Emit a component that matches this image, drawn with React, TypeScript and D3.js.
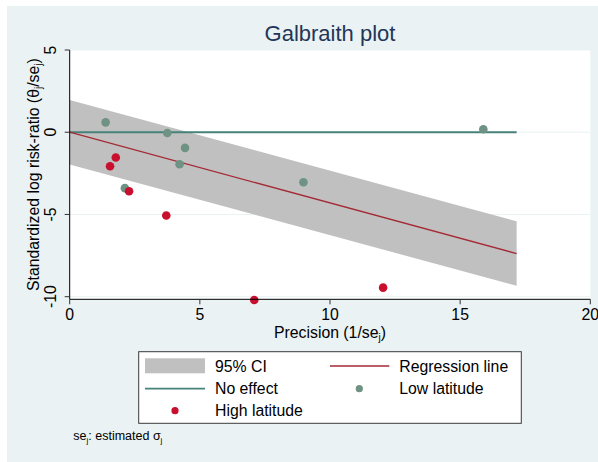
import React from "react";
import * as d3 from "d3";

// Low latitude studies: precision (1/se) and standardized log RR
const lowPrecision = [1.38, 3.75, 4.43, 4.22, 2.12, 8.98, 15.89];
const lowStdLogRR = [0.6, -0.05, -0.95, -1.95, -3.4, -3.04, 0.18];
// High latitude studies
const highPrecision = [1.77, 1.55, 2.28, 3.71, 12.04, 7.09];
const highStdLogRR = [-1.54, -2.07, -3.59, -5.06, -9.45, -10.2];

const xTicks = [0, 5, 10, 15, 20];
const yTicks = [5, 0, -5, -10];
const lineXMax = 17.17;
const ciHalfWidth = 1.96;

const W = 598;
const H = 462;
const FONT = "'Liberation Sans', Arial, Helvetica, sans-serif";
const FS = 15.8;

export default function App() {
  const x = d3.scaleLinear().domain([0, 20]).range([69.7, 590.3]);
  const y = d3.scaleLinear().domain([-10, 5]).range([296.7, 50]);
  const plotTop = 50;
  const plotBottom = 299.3;
  const plotLeft = x(0);
  const plotRight = x(20);

  const allX = [...lowPrecision, ...highPrecision];
  const allY = [...lowStdLogRR, ...highStdLogRR];
  const sxy = d3.sum(allX.map((v, i) => v * allY[i]));
  const sxx = d3.sum(allX.map((v) => v * v));
  const slope = sxy / sxx;

  const bandData = [0, lineXMax];
  const area = d3
    .area<number>()
    .x((d) => x(d))
    .y0((d) => y(slope * d - ciHalfWidth))
    .y1((d) => y(slope * d + ciHalfWidth));
  const line = d3
    .line<number>()
    .x((d) => x(d))
    .y((d) => y(slope * d));

  const teal = "#47827A";
  const lowCol = "#6E9283";
  const highCol = "#C8102E";
  const regCol = "#A52A35";

  return (
    <svg width={W} height={H} style={{ position: "absolute", left: 0, top: 0 }} fontFamily={FONT}>
      <rect x={7} y={6} width={W - 7} height={H - 6} fill="#EAF2F3" />
      <rect x={plotLeft} y={plotTop} width={plotRight - plotLeft} height={plotBottom - plotTop} fill="#ffffff" />
      {yTicks.map((t) => (
        <line key={"g" + t} x1={plotLeft} x2={plotRight} y1={y(t)} y2={y(t)} stroke="#EAF2F3" strokeWidth={1} />
      ))}
      <path d={area(bandData) || ""} fill="#C0C0C0" />
      <line x1={x(0)} x2={x(lineXMax)} y1={y(0)} y2={y(0)} stroke={teal} strokeWidth={1.8} />
      <path d={line(bandData) || ""} fill="none" stroke={regCol} strokeWidth={1.3} />
      {lowPrecision.map((p, i) => (
        <circle key={"l" + i} cx={x(p)} cy={y(lowStdLogRR[i])} r={4.3} fill={lowCol} />
      ))}
      {highPrecision.map((p, i) => (
        <circle key={"h" + i} cx={x(p)} cy={y(highStdLogRR[i])} r={4.3} fill={highCol} />
      ))}

      {/* axes */}
      <line x1={plotLeft} x2={plotLeft} y1={plotTop} y2={plotBottom} stroke="#000" strokeWidth={1} />
      <line x1={plotLeft} x2={plotRight} y1={plotBottom} y2={plotBottom} stroke="#000" strokeWidth={1} />
      {yTicks.map((t) => (
        <g key={"yt" + t}>
          <line x1={plotLeft - 5} x2={plotLeft} y1={y(t)} y2={y(t)} stroke="#333" strokeWidth={1} />
          <text transform={`translate(55.5,${y(t)}) rotate(-90)`} textAnchor="middle" fontSize={FS} fill="#000">
            {t}
          </text>
        </g>
      ))}
      {xTicks.map((t) => (
        <g key={"xt" + t}>
          <line x1={x(t)} x2={x(t)} y1={plotBottom} y2={plotBottom + 5} stroke="#333" strokeWidth={1} />
          <text x={x(t)} y={319.5} textAnchor="middle" fontSize={FS} fill="#000">
            {t}
          </text>
        </g>
      ))}

      {/* title */}
      <text x={(plotLeft + plotRight) / 2} y={41} textAnchor="middle" fontSize={22} fill="#233658">
        Galbraith plot
      </text>

      {/* axis titles */}
      <text x={(plotLeft + plotRight) / 2} y={337.7} textAnchor="middle" fontSize={FS} fill="#000">
        Precision (1/se<tspan fontSize={10} dy={3}>j</tspan><tspan dy={-3}>)</tspan>
      </text>
      <text transform={`translate(38.5,${(plotTop + plotBottom) / 2}) rotate(-90)`} textAnchor="middle" fontSize={FS} fill="#000">
        Standardized log risk-ratio (θ<tspan fontSize={10} dy={3}>j</tspan><tspan dy={-3}>/se</tspan>
        <tspan fontSize={10} dy={3}>j</tspan><tspan dy={-3}>)</tspan>
      </text>

      {/* legend */}
      <rect x={138.7} y={351.7} width={521.3 - 138.7} height={423.3 - 351.7} fill="#ffffff" stroke="#3a3a3a" strokeWidth={1} />
      <rect x={145} y={358.3} width={60} height={15} fill="#C0C0C0" />
      <text x={215} y={371.5} fontSize={FS}>95% CI</text>
      <line x1={330} x2={389.3} y1={366} y2={366} stroke={regCol} strokeWidth={1.3} />
      <text x={399.3} y={371.5} fontSize={FS}>Regression line</text>
      <line x1={145} x2={205} y1={388.7} y2={388.7} stroke={teal} strokeWidth={1.8} />
      <text x={215} y={394} fontSize={FS}>No effect</text>
      <circle cx={359.3} cy={388.7} r={3.6} fill={lowCol} />
      <text x={399.3} y={394} fontSize={FS}>Low latitude</text>
      <circle cx={175} cy={410.7} r={3.6} fill={highCol} />
      <text x={215} y={416} fontSize={FS}>High latitude</text>

      {/* note */}
      <text x={73.3} y={440} fontSize={12.5} fill="#000">
        se<tspan fontSize={8} dy={2.5}>j</tspan><tspan dy={-2.5}>: estimated σ</tspan>
        <tspan fontSize={8} dy={2.5}>j</tspan>
      </text>
    </svg>
  );
}
